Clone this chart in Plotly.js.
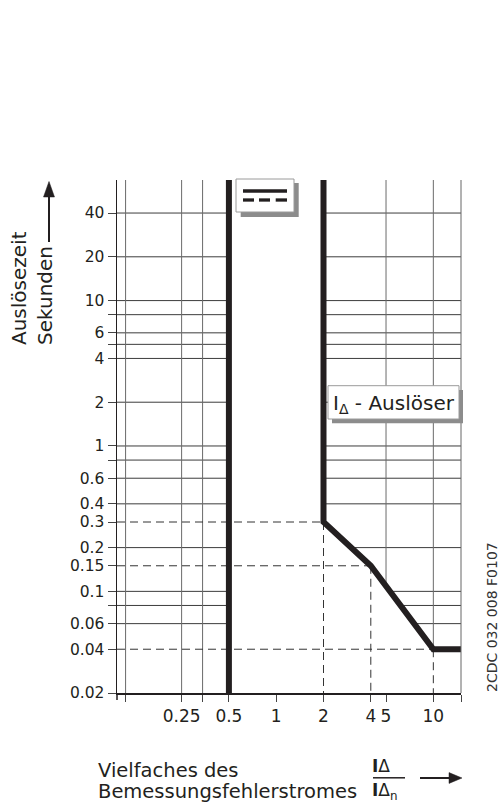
<!DOCTYPE html>
<html><head><meta charset="utf-8">
<script src="https://cdn.plot.ly/plotly-3.0.1.min.js"></script>
<style>body{margin:0;background:#fff}#chart{width:501px;height:805px}</style>
</head><body><div id="chart"></div>
<script>
// trip curve (I_Δ - Auslöser)
const tripX = [2, 2, 4, 10, 15];
const tripY = [67.5, 0.3, 0.15, 0.04, 0.04];
// non-trip limit line
const limitX = [0.5, 0.5];
const limitY = [0.02, 67.5];
// curve corner points marked with dashed lines
const markX = [2, 4, 10];
const markY = [0.3, 0.15, 0.04];
// grid values
const hGrid = [40, 20, 10, 8, 6, 5, 4, 2, 1, 0.8, 0.6, 0.4, 0.2, 0.1, 0.08, 0.06];
const vGridLeft = [0.11, 0.25, 0.34];
const vGridRight = [5, 10];
// labelled ticks
const xTickVals = [0.25, 0.5, 1, 2, 4, 5, 10];
const xTickText = ['0.25', '0.5', '1', '2', '4', '5', '10'];
const yTickVals = [40, 20, 10, 6, 4, 2, 1, 0.6, 0.4, 0.3, 0.2, 0.15, 0.1, 0.06, 0.04, 0.02];
const yTickText = ['40','20','10','6','4','2','1','0.6','0.4','0.3','0.2','0.15','0.1','0.06','0.04','0.02'];
// unlabelled ticks
const xMinorVals = [0.11, 0.34, 15];
const yMinorVals = [8, 5, 0.8, 0.08];
const xMin = 0.097, xMax = 15, yMin = 0.02, yMax = 67.5;

const FONT = 'DejaVu Sans';
const INK = '#231f20';
const L = Math.log10;

function curveXAt(y){
  for (let i=0;i<tripY.length-1;i++){
    const y0=tripY[i], y1=tripY[i+1];
    if (y<=y0 && y>=y1 && y0!==y1){
      const t=(L(y)-L(y0))/(L(y1)-L(y0));
      return Math.pow(10, L(tripX[i])+t*(L(tripX[i+1])-L(tripX[i])));
    }
  }
  return null;
}
function curveYAt(x){
  for (let i=0;i<tripX.length-1;i++){
    const x0=tripX[i], x1=tripX[i+1];
    if (x>=x0 && x<=x1 && x0!==x1){
      const t=(L(x)-L(x0))/(L(x1)-L(x0));
      return Math.pow(10, L(tripY[i])+t*(L(tripY[i+1])-L(tripY[i])));
    }
  }
  return null;
}

const hx=[], hy=[];
hGrid.forEach(y=>{
  hx.push(xMin, limitX[0], null); hy.push(y, y, null);
  const cx = curveXAt(y);
  if (cx!==null){ hx.push(cx, xMax, null); hy.push(y, y, null); }
});
const vx=[], vy=[];
vGridLeft.forEach(x=>{ vx.push(x,x,null); vy.push(yMin,yMax,null); });
vGridRight.forEach(x=>{ vx.push(x,x,null); vy.push(curveYAt(x),yMax,null); });
const dx=[], dy=[];
markX.forEach((x,i)=>{ const y=markY[i]; dx.push(xMin,x,null,x,x,null); dy.push(y,y,null,y,yMin,null); });

const base = {mode:'lines', hoverinfo:'skip', showlegend:false};
const traces = [
  Object.assign({x:hx, y:hy, line:{color:'#3c3c3c', width:1}}, base),
  Object.assign({x:vx, y:vy, line:{color:'#6a6a6a', width:1}}, base),
  Object.assign({x:dx, y:dy, line:{color:'#333', width:1, dash:'8px,5px'}}, base),
  Object.assign({x:limitX, y:limitY, line:{color:INK, width:6}}, base),
  Object.assign({x:tripX, y:tripY, line:{color:INK, width:6}}, base)
];

// pixel -> paper helpers for decorations
const px = v => (v-117)/344;
const py = v => (693-v)/513;
function rect(x0,y0,x1,y1,fill,lc,lw){
  return {type:'rect',xref:'paper',yref:'paper',x0:px(x0),x1:px(x1),y0:py(y1),y1:py(y0),
    fillcolor:fill,line:{color:lc||fill,width:lw||0},layer:'above'};
}
function seg(x0,y0,x1,y1,color,w){
  return {type:'line',xref:'paper',yref:'paper',x0:px(x0),y0:py(y0),x1:px(x1),y1:py(y1),
    line:{color:color,width:w},layer:'above'};
}
function tri(p,color){
  const d='M'+p.map(q=>px(q[0])+','+py(q[1])).join(' L')+' Z';
  return {type:'path',xref:'paper',yref:'paper',path:d,fillcolor:color,line:{color:color,width:0.5},layer:'above'};
}

const shapes = [
  seg(117,693,117,700,INK,1.5),
  seg(461,180,461,693,'#666',1),
  // legend box
  rect(240.7,183,298.7,217,'#8c8c8c'),
  rect(236,179,294,212,'#ffffff','#9a9a9a',1),
  seg(243,191,287,191,INK,3.3),
  seg(243,200,254,200,INK,3.3),
  seg(259,200,270,200,INK,3.3),
  seg(275.7,200,287,200,INK,3.3),
  // label box
  rect(332,390,463,423.3,'#8c8c8c'),
  rect(328,385.7,459,419,'#ffffff','#9a9a9a',1),
  // y title arrow
  seg(49,242,49,195,INK,2),
  tri([[43.5,197],[54.5,197],[49,181.5]],INK),
  // x title arrow
  seg(420,778,451,778,INK,2),
  tri([[449,772.6],[449,783.4],[462,778]],INK),
  // fraction bar
  seg(373,777.8,405,777.8,INK,1.5)
];

function ann(o){
  return Object.assign({xref:'paper',yref:'paper',showarrow:false,font:{family:FONT,size:20,color:INK}},o);
}
const annotations = [
  ann({x:px(32),y:py(347),xanchor:'center',yanchor:'bottom',textangle:-90,align:'left',
       text:'Auslösezeit<br>Sekunden'}),
  ann({x:px(96),y:py(771),xanchor:'left',yanchor:'middle',text:'Vielfaches des',font:{family:FONT,size:19.5,color:INK}}),
  ann({x:px(96),y:py(791),xanchor:'left',yanchor:'middle',text:'Bemessungsfehlerstromes',font:{family:FONT,size:19.5,color:INK}}),
  ann({x:px(372),y:py(765.5),xanchor:'left',yanchor:'middle',borderpad:0,borderwidth:0,
       text:'<b>I</b>Δ',font:{family:FONT,size:17,color:INK}}),
  ann({x:px(372),y:py(791.5),xanchor:'left',yanchor:'middle',borderpad:0,borderwidth:0,
       text:'<b>I</b>Δ<sub>n</sub>',font:{family:FONT,size:17,color:INK}}),
  ann({x:px(393.5),y:py(403.7),xanchor:'center',yanchor:'middle',text:'I<sub>Δ</sub> - Auslöser'}),
  ann({x:px(491.5),y:py(617.5),xanchor:'center',yanchor:'middle',textangle:-90,
       text:'2CDC 032 008 F0107',font:{family:FONT,size:14,color:'#333'}})
];

const axisCommon = {type:'log',showgrid:false,zeroline:false,showline:true,linecolor:INK,linewidth:1.5,
  ticks:'outside',tickwidth:1,tickcolor:'#444',fixedrange:true};
const layout = {
  width:501,height:805,margin:{l:117,r:40,t:180,b:112},
  paper_bgcolor:'#fff',plot_bgcolor:'#fff',showlegend:false,
  font:{family:FONT,color:INK},
  xaxis:Object.assign({},axisCommon,{range:[L(xMin),L(xMax)],ticklen:7,tickmode:'array',
    tickvals:xTickVals,ticktext:xTickText,tickfont:{family:FONT,size:17,color:INK},
    minor:{tickmode:'array',tickvals:xMinorVals,ticks:'outside',ticklen:7,tickwidth:1,tickcolor:'#444',showgrid:false}}),
  yaxis:Object.assign({},axisCommon,{range:[L(yMin),L(yMax)],ticklen:8,tickmode:'array',
    tickvals:yTickVals,ticktext:yTickText,tickfont:{family:FONT,size:15.5,color:INK},
    minor:{tickmode:'array',tickvals:yMinorVals,ticks:'outside',ticklen:8,tickwidth:1,tickcolor:'#444',showgrid:false}}),
  shapes:shapes,
  annotations:annotations
};
Plotly.newPlot('chart',traces,layout,{staticPlot:true,displayModeBar:false});
</script>
</body></html>
